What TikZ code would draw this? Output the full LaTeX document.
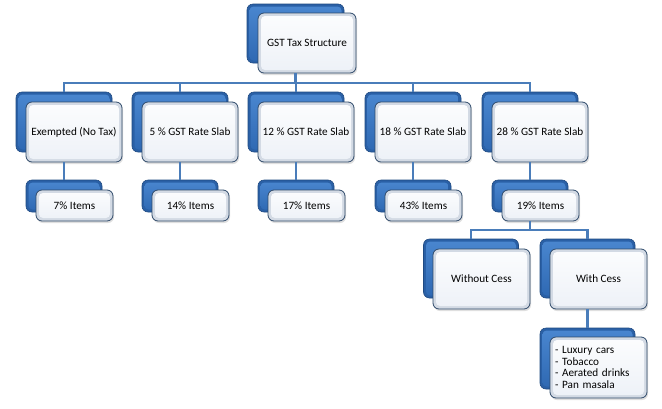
\documentclass[tikz,border=0pt]{standalone}
\usepackage{fontspec}
\setmainfont{Carlito}
\usetikzlibrary{calc,shadows}
\definecolor{blueedge}{HTML}{1F4A82}
\definecolor{bluefill}{HTML}{2A60A6}
\definecolor{bluetop}{HTML}{4A87D0}
\definecolor{bluebot}{HTML}{2E68B2}
\definecolor{whedge}{HTML}{2F4A6A}
\definecolor{whframe}{HTML}{D3DAE4}
\definecolor{whtop}{HTML}{FCFDFE}
\definecolor{whbot}{HTML}{EDF1F7}
\definecolor{connc}{HTML}{4A7DBA}
\tikzset{
  backbox/.style={rectangle, rounded corners=6pt, draw=blueedge, line width=0.6pt,
    fill=bluefill, inner sep=0pt,
    path picture={\shade[top color=bluetop, bottom color=bluebot, rounded corners=4pt]
      ($(path picture bounding box.south west)+(2.5pt,2.5pt)$) rectangle
      ($(path picture bounding box.north east)+(-2.5pt,-2.5pt)$);}},
  frontbox/.style={rectangle, rounded corners=6pt, draw=whedge, line width=0.8pt,
    fill=whframe, inner sep=0pt, align=center,
    font=\fontsize{11.2}{12}\selectfont,
    drop shadow={shadow xshift=1pt, shadow yshift=-2pt, opacity=0.25},
    path picture={\shade[top color=whtop, bottom color=whbot, rounded corners=4pt]
      ($(path picture bounding box.south west)+(3pt,3pt)$) rectangle
      ($(path picture bounding box.north east)+(-3pt,-3pt)$);}},
  bigB/.style={backbox, minimum width=96pt, minimum height=60pt},
  bigF/.style={frontbox, minimum width=96pt, minimum height=60pt},
  smallB/.style={backbox, minimum width=76pt, minimum height=32pt},
  smallF/.style={frontbox, minimum width=77pt, minimum height=31pt},
  conn/.style={draw=connc, line width=2.5pt}
}
\begin{document}
\begin{tikzpicture}[x=1pt,y=-1pt]
\useasboundingbox[fill=white] (0,0) rectangle (662,408);

% top
\node[backbox, minimum width=97pt, minimum height=59pt] (topB) at (295.5,33.5) {};
\node[frontbox, minimum width=98pt, minimum height=60pt] (top) at (307,43) {GST Tax Structure};

% level 1
\node[bigB] (exB) at (64,122) {};
\node[bigF] (ex) at (74,132) {Exempted (No Tax)};
\node[bigB] (r5B) at (180,122) {};
\node[bigF] (r5) at (190,132) {5 \% GST Rate Slab};
\node[bigB] (r12B) at (296,122) {};
\node[bigF] (r12) at (306,132) {12 \% GST Rate Slab};
\node[bigB] (r18B) at (413,122) {};
\node[bigF] (r18) at (423,132) {18 \% GST Rate Slab};
\node[bigB] (r28B) at (530,122) {};
\node[bigF] (r28) at (540,132) {28 \% GST Rate Slab};

% level 2
\node[smallB] (i7B) at (64,196) {};
\node[smallF] (i7) at (74.5,205.5) {7\% Items};
\node[smallB] (i14B) at (180,196) {};
\node[smallF] (i14) at (190.5,205.5) {14\% Items};
\node[smallB] (i17B) at (296,196) {};
\node[smallF] (i17) at (306.5,205.5) {17\% Items};
\node[smallB] (i43B) at (413,196) {};
\node[smallF] (i43) at (423.5,205.5) {43\% Items};
\node[smallB] (i19B) at (530,196) {};
\node[smallF] (i19) at (540.5,205.5) {19\% Items};

% level 3
\node[backbox, minimum width=95pt, minimum height=59pt] (woB) at (471,268.5) {};
\node[frontbox, minimum width=97pt, minimum height=60pt] (wo) at (481.5,279) {Without Cess};
\node[backbox, minimum width=95pt, minimum height=59pt] (wcB) at (587.5,268.5) {};
\node[frontbox, minimum width=97pt, minimum height=60pt] (wc) at (598.5,279) {With Cess};

% level 4
\node[backbox, minimum width=95pt, minimum height=61pt] (lsB) at (587.5,358.5) {};
\node[frontbox, minimum width=97pt, minimum height=61pt, text width=87pt, align=left,
  font=\fontsize{11.2}{11.8}\selectfont] (ls) at (598.5,367.5)
  {- Luxury cars\\- Tobacco\\- Aerated drinks\\- Pan masala};

% connectors
\coordinate (j0) at (296,83);
\foreach \n in {exB,r5B,r12B,r18B,r28B}
  \draw[conn] (topB.center |- top.south) -- (topB.center |- j0) -| (\n.north);
\draw[conn] (exB.center |- ex.south) -- (i7B.north);
\draw[conn] (r5B.center |- r5.south) -- (i14B.north);
\draw[conn] (r12B.center |- r12.south) -- (i17B.north);
\draw[conn] (r18B.center |- r18.south) -- (i43B.north);
\draw[conn] (r28B.center |- r28.south) -- (i19B.north);
\coordinate (j1) at (530,230);
\draw[conn] (i19B.center |- i19.south) -- (j1) -| (woB.north);
\draw[conn] (i19B.center |- i19.south) -- (j1) -| (wcB.north);
\draw[conn] (wcB.center |- wc.south) -- (lsB.north);
\end{tikzpicture}
\end{document}
